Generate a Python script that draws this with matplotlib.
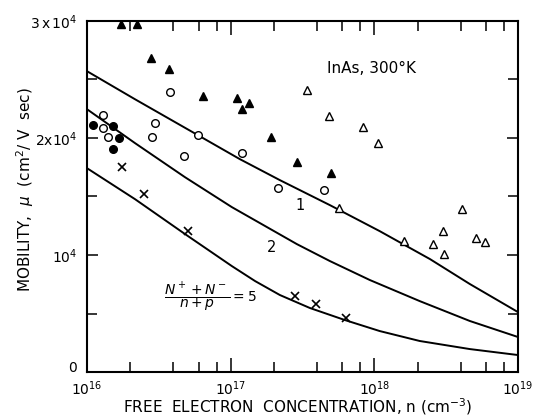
import matplotlib
matplotlib.use("Agg")
import matplotlib.pyplot as plt

plt.rcParams['font.family'] = ['DejaVu Sans']
plt.rcParams['mathtext.fontset'] = 'dejavusans'

# ---- data (n in cm^-3, mobility in cm^2/V s) ----
filled_tri_n = [1.73e16, 2.23e16, 2.79e16, 3.72e16, 6.41e16, 1.11e17, 1.20e17, 1.34e17, 1.91e17, 2.89e17, 4.99e17]
filled_tri_mu = [29720, 29720, 26820, 25880, 23570, 23400, 22460, 22970, 20070, 17930, 16990]

open_tri_n = [3.40e17, 4.83e17, 8.33e17, 1.06e18, 5.68e17, 1.61e18, 2.56e18, 3.00e18, 3.05e18, 4.07e18, 5.10e18, 5.89e18]
open_tri_mu = [24080, 21860, 20920, 19560, 14010, 11190, 10930, 12040, 10080, 13920, 11440, 11100]

open_circ_n = [1.29e16, 1.29e16, 1.40e16, 2.83e16, 2.97e16, 3.78e16, 4.73e16, 5.92e16, 1.20e17, 2.13e17, 4.46e17]
open_circ_mu = [21950, 20840, 20070, 20070, 21260, 23910, 18450, 20240, 18700, 15710, 15540]

filled_circ_n = [1.10e16, 1.52e16, 1.67e16, 1.52e16]
filled_circ_mu = [21090, 21010, 19980, 19040]

cross_n = [1.76e16, 2.49e16, 5.05e16, 2.80e17, 3.93e17, 6.34e17]
cross_mu = [17510, 15200, 12040, 6490, 5810, 4610]

curve1_n = [1e16, 2.16e16, 5.92e16, 1.16e17, 2.20e17, 4.91e17, 1.09e18, 2.44e18, 4.62e18, 1e19]
curve1_mu = [25710, 23310, 20240, 18190, 16400, 14260, 12040, 9650, 7520, 5120]

curve2_n = [1e16, 2.16e16, 4.81e16, 1.02e17, 2.89e17, 4.91e17, 9.31e17, 2.07e18, 4.62e18, 1e19]
curve2_mu = [22460, 19560, 16650, 14090, 10930, 9480, 7860, 6060, 4360, 2990]

curve3_n = [1e16, 2.16e16, 4.81e16, 7.18e16, 1.02e17, 1.48e17, 2.20e17, 3.56e17, 6.24e17, 1.09e18, 2.07e18, 4.62e18, 1e19]
curve3_mu = [17420, 14770, 11790, 10330, 9050, 7770, 6580, 5470, 4440, 3500, 2650, 1960, 1450]

x_ticks = [1e16, 1e17, 1e18, 1e19]
x_ticklabels = [r'$10^{16}$', r'$10^{17}$', r'$10^{18}$', r'$10^{19}$']
y_ticks = [0, 10000, 20000, 30000]
y_ticklabels = ['0', r'$10^4$', r'2x$10^4$', r'3$\,$x$\,10^4$']

# ---- figure ----
fig = plt.figure(figsize=(5.34, 4.19), dpi=100)
ax = fig.add_axes([87/534, 1-372/419, (518-87)/534, (372-21)/419])
ax.set_xscale('log')
ax.set_xlim(1e16, 1e19)
ax.set_ylim(0, 30000)

for cn, cm in [(curve1_n, curve1_mu), (curve2_n, curve2_mu), (curve3_n, curve3_mu)]:
    ax.plot(cn, cm, color='black', lw=1.4, solid_joinstyle='round')

ms = 5.5
ax.plot(filled_tri_n, filled_tri_mu, '^', color='black', ms=ms+0.5, ls='none', clip_on=False)
ax.plot(open_tri_n, open_tri_mu, '^', mfc='white', mec='black', mew=1.0, ms=ms, ls='none')
ax.plot(open_circ_n, open_circ_mu, 'o', mfc='white', mec='black', mew=1.0, ms=ms, ls='none')
ax.plot(filled_circ_n, filled_circ_mu, 'o', color='black', ms=ms, ls='none')
ax.plot(cross_n, cross_mu, 'x', color='black', mew=1.2, ms=ms, ls='none')

# ticks
ax.set_xticks(x_ticks)
ax.set_xticklabels(x_ticklabels, fontsize=10)
minor = [m * 10**e for e in (16, 17, 18) for m in (2, 4, 6, 8)]
ax.set_xticks(minor, minor=True)
ax.set_xticklabels([], minor=True)
ax.set_yticks(y_ticks)
ax.set_yticklabels(y_ticklabels, fontsize=10)
ax.set_yticks([5000, 15000, 25000], minor=True)
ax.tick_params(which='major', direction='in', length=10, width=1.1, top=True, right=True)
ax.tick_params(which='minor', direction='in', length=7, width=1.1, top=True, right=True)
ax.tick_params(axis='x', which='major', pad=5)
ax.tick_params(axis='y', which='major', length=8, pad=7)
ax.get_yticklabels()[0].set_va('baseline')
for s in ax.spines.values():
    s.set_linewidth(1.5)

ax.set_xlabel('FREE  ELECTRON  CONCENTRATION, n (cm$^{-3}$)', fontsize=11)
ax.xaxis.label.set_va('center')
ax.xaxis.set_label_coords(0.49, -(407-372)/351)
ax.set_ylabel(r'MOBILITY,  $\mu$  (cm$^2$/ V  sec)', fontsize=11)
ax.yaxis.label.set_va('center')
ax.yaxis.set_label_coords(-(87-25)/431, (372-190)/351)

ax.text(4.68e17, 25960, 'InAs, 300°K', fontsize=11, va='center', ha='left')
ax.text(3.03e17, 14260, '1', fontsize=10.5, va='center', ha='center')
ax.text(1.94e17, 10680, '2', fontsize=10.5, va='center', ha='center')
ax.text(10**16.86, 6400, r'$\dfrac{N^+ + N^-}{n+p}=5$', fontsize=10, va='center', ha='center')

fig.savefig('out.png', dpi=100)
